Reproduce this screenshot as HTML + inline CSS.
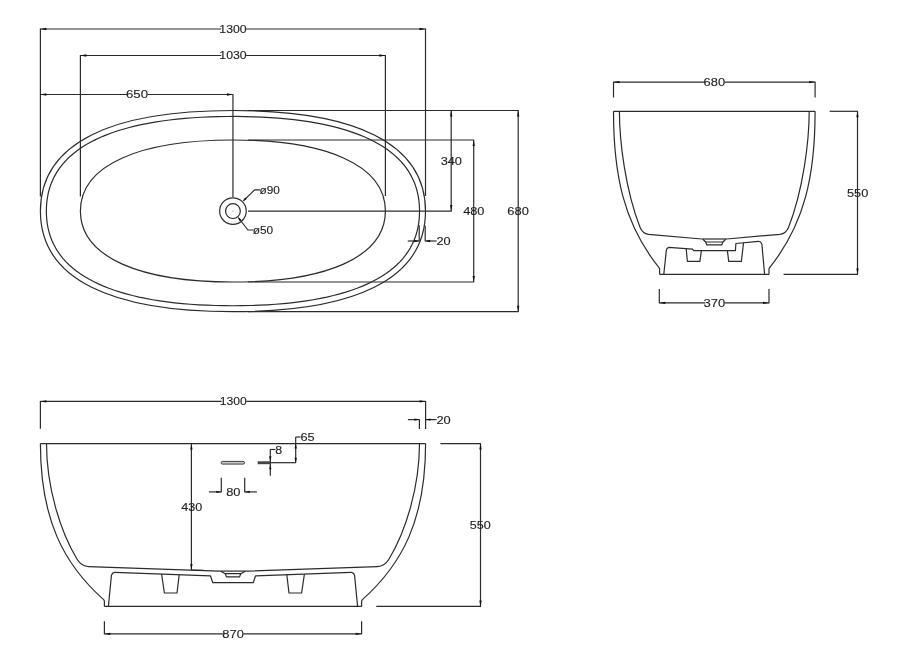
<!DOCTYPE html>
<html lang="en">
<head>
<meta charset="utf-8">
<title>Bathtub dimensions</title>
<style>
html,body{margin:0;padding:0;background:#fff;}
body{width:900px;height:669px;overflow:hidden;}
svg{display:block;will-change:transform;}
svg *{vector-effect:none;}
.g{fill:none;stroke:#2b2b2b;stroke-width:1.2;stroke-linecap:butt;stroke-linejoin:round;}
.g text{fill:#222;stroke:#222;stroke-width:0.12;font-family:"Liberation Sans",sans-serif;}
.g .a{fill:#111;stroke:none;}
</style>
</head>
<body>
<svg width="900" height="669" viewBox="0 0 900 669">
<rect width="900" height="669" fill="#fff"/>
<g class="g">
<path d="M40.4 211.1 C40.4 142.09 112.8 110.5 232.95 110.5 C353.1 110.5 425.5 142.09 425.5 211.1 C425.5 280.11 353.1 311.7 232.95 311.7 C112.8 311.7 40.4 280.11 40.4 211.1 Z" />
<path d="M46.35 211.1 L46.48 206.27 L46.86 201.6 L47.5 197.08 L48.38 192.71 L49.5 188.48 L50.87 184.39 L52.47 180.44 L54.31 176.61 L56.39 172.91 L58.7 169.33 L61.26 165.87 L64.05 162.53 L67.08 159.29 L70.36 156.18 L73.87 153.17 L77.63 150.28 L81.63 147.5 L85.87 144.83 L90.36 142.28 L95.08 139.85 L100.04 137.53 L105.23 135.33 L110.66 133.25 L116.31 131.29 L122.2 129.46 L128.31 127.74 L134.64 126.14 L141.19 124.67 L147.96 123.31 L154.94 122.08 L162.14 120.97 L169.54 119.99 L177.15 119.12 L184.96 118.38 L192.98 117.76 L201.19 117.26 L209.6 116.88 L218.2 116.62 L226.99 116.48 L235.94 116.46 L244.79 116.56 L253.46 116.78 L261.93 117.12 L270.21 117.58 L278.29 118.16 L286.17 118.86 L293.85 119.69 L301.32 120.63 L308.58 121.7 L315.64 122.89 L322.48 124.2 L329.1 125.64 L335.51 127.19 L341.69 128.87 L347.65 130.67 L353.38 132.59 L358.89 134.63 L364.16 136.78 L369.2 139.06 L374 141.46 L378.56 143.97 L382.88 146.6 L386.96 149.34 L390.8 152.19 L394.4 155.16 L397.75 158.24 L400.87 161.44 L403.74 164.74 L406.37 168.17 L408.77 171.71 L410.92 175.36 L412.84 179.15 L414.53 183.06 L415.97 187.1 L417.17 191.28 L418.14 195.61 L418.85 200.08 L419.32 204.7 L419.54 209.47 L419.49 214.33 L419.19 219.06 L418.64 223.63 L417.84 228.05 L416.8 232.32 L415.52 236.46 L413.99 240.46 L412.23 244.33 L410.23 248.07 L408 251.69 L405.52 255.19 L402.81 258.57 L399.86 261.84 L396.66 265 L393.23 268.04 L389.55 270.97 L385.63 273.79 L381.47 276.49 L377.06 279.08 L372.42 281.55 L367.54 283.91 L362.43 286.15 L357.08 288.27 L351.5 290.27 L345.69 292.15 L339.66 293.9 L333.4 295.54 L326.92 297.06 L320.22 298.45 L313.31 299.72 L306.19 300.87 L298.85 301.9 L291.31 302.8 L283.56 303.59 L275.62 304.25 L267.47 304.79 L259.13 305.21 L250.59 305.51 L241.86 305.69 L232.95 305.75 L224.04 305.69 L215.31 305.51 L206.77 305.21 L198.43 304.79 L190.28 304.25 L182.34 303.59 L174.59 302.8 L167.05 301.9 L159.71 300.87 L152.59 299.72 L145.68 298.45 L138.98 297.06 L132.5 295.54 L126.24 293.9 L120.21 292.15 L114.4 290.27 L108.82 288.27 L103.47 286.15 L98.36 283.91 L93.48 281.55 L88.84 279.08 L84.43 276.49 L80.27 273.79 L76.35 270.97 L72.67 268.04 L69.24 265 L66.04 261.84 L63.09 258.57 L60.38 255.19 L57.9 251.69 L55.67 248.07 L53.67 244.33 L51.91 240.46 L50.38 236.46 L49.1 232.32 L48.06 228.05 L47.26 223.63 L46.71 219.06 L46.41 214.33 Z" />
<path d="M80.4 211.1 C80.4 164.17 141.42 140 232.95 140 C324.42 140 385.4 164.17 385.4 211.1 C385.4 257.89 324.42 282 232.95 282 C141.42 282 80.4 257.89 80.4 211.1 Z" />
<circle cx="232.95" cy="211.1" r="13.3"/>
<circle cx="232.95" cy="211.1" r="7.4"/>
<circle cx="232.95" cy="211.1" r="0.6" fill="#999" stroke="none"/>
<path d="M243.6 200.6 L254.6 189.9 L260 189.9" />
<polygon class="a" points="242.4,201.8 245.16,197.49 246.71,199.04"/>
<text x="259.55" y="193.8" font-size="10.9" textLength="20.4" lengthAdjust="spacingAndGlyphs">ø90</text>
<path d="M238.6 218 L247.9 230 L253.2 230" />
<polygon class="a" points="237.5,216.6 241.43,219.88 239.69,221.23"/>
<text x="252.75" y="233.9" font-size="10.9" textLength="20.4" lengthAdjust="spacingAndGlyphs">ø50</text>
<text x="219.35" y="32.9" font-size="10.9" textLength="27.3" lengthAdjust="spacingAndGlyphs">1300</text>
<line x1="40.4" y1="29" x2="221.2" y2="29"/>
<line x1="246.2" y1="29" x2="425.5" y2="29"/>
<polygon class="a" points="40.4,29 46.4,27.85 46.4,30.15"/>
<polygon class="a" points="425.5,29 419.5,30.15 419.5,27.85"/>
<line x1="40.4" y1="28.6" x2="40.4" y2="196.5"/>
<line x1="425.5" y1="28.6" x2="425.5" y2="196"/>
<text x="219.35" y="59.4" font-size="10.9" textLength="27.3" lengthAdjust="spacingAndGlyphs">1030</text>
<line x1="80.4" y1="55.5" x2="221.2" y2="55.5"/>
<line x1="246.2" y1="55.5" x2="385.4" y2="55.5"/>
<polygon class="a" points="80.4,55.5 86.4,54.35 86.4,56.65"/>
<polygon class="a" points="385.4,55.5 379.4,56.65 379.4,54.35"/>
<line x1="80.4" y1="55.1" x2="80.4" y2="196.5"/>
<line x1="385.4" y1="55.1" x2="385.4" y2="196"/>
<text x="125.95" y="98.4" font-size="10.9" textLength="22.1" lengthAdjust="spacingAndGlyphs">650</text>
<line x1="40.4" y1="94.5" x2="127.8" y2="94.5"/>
<line x1="147.6" y1="94.5" x2="232.95" y2="94.5"/>
<polygon class="a" points="40.4,94.5 46.4,93.35 46.4,95.65"/>
<polygon class="a" points="232.95,94.5 226.95,95.65 226.95,93.35"/>
<line x1="232.95" y1="94.1" x2="232.95" y2="197"/>
<line x1="248" y1="110.5" x2="518.7" y2="110.5"/>
<line x1="248" y1="140" x2="474.1" y2="140"/>
<line x1="248" y1="211.1" x2="451.8" y2="211.1"/>
<line x1="248" y1="282" x2="474.1" y2="282"/>
<line x1="248" y1="311.7" x2="518.7" y2="311.7"/>
<line x1="451.2" y1="110.5" x2="451.2" y2="211.1"/>
<polygon class="a" points="451.2,110.5 452.35,116.5 450.05,116.5"/>
<polygon class="a" points="451.2,211.1 450.05,205.1 452.35,205.1"/>
<text x="440.65" y="164.9" font-size="10.9" textLength="21.3" lengthAdjust="spacingAndGlyphs">340</text>
<line x1="473.7" y1="140" x2="473.7" y2="282"/>
<polygon class="a" points="473.7,140 474.85,146 472.55,146"/>
<polygon class="a" points="473.7,282 472.55,276 474.85,276"/>
<text x="463.15" y="215" font-size="10.9" textLength="21.3" lengthAdjust="spacingAndGlyphs">480</text>
<line x1="518.2" y1="110.5" x2="518.2" y2="311.7"/>
<polygon class="a" points="518.2,110.5 519.35,116.5 517.05,116.5"/>
<polygon class="a" points="518.2,311.7 517.05,305.7 519.35,305.7"/>
<text x="507.35" y="215" font-size="10.9" textLength="21.5" lengthAdjust="spacingAndGlyphs">680</text>
<line x1="419.2" y1="225.3" x2="419.2" y2="241.2"/>
<line x1="425.2" y1="225.8" x2="425.2" y2="241.2"/>
<line x1="407.8" y1="241" x2="419.2" y2="241"/>
<line x1="425.2" y1="241" x2="436.6" y2="241"/>
<polygon class="a" points="419.2,241 414.2,242.15 414.2,239.85"/>
<polygon class="a" points="425.2,241 430.2,239.85 430.2,242.15"/>
<text x="436.45" y="245.2" font-size="10.9" textLength="14.2" lengthAdjust="spacingAndGlyphs">20</text>
<path d="M613.5 111.3 C613.5 174.5 623.6 223.7 659.0 267.6 Q659.6 268.4 659.6 269.6 L659.6 274.4" />
<path d="M613.5 111.3 C613.5 174.5 623.6 223.7 659.0 267.6 Q659.6 268.4 659.6 269.6 L659.6 274.4" transform="translate(1428.6,0) scale(-1,1)"/>
<path d="M619.4 111.3 C619.4 141.2 625.5 190.3 640 227.2 Q642.6 233.6 648.6 234.3 L701.8 239.0" />
<path d="M619.4 111.3 C619.4 141.2 625.5 190.3 640 227.2 Q642.6 233.6 648.6 234.3 L701.8 239.0" transform="translate(1428.6,0) scale(-1,1)"/>
<line x1="613.5" y1="111.3" x2="815.1" y2="111.3"/>
<line x1="659.6" y1="274.4" x2="769" y2="274.4"/>
<path d="M701.8 239 L726.8 239" />
<path d="M702.8 239.2 L705.8 242 L722.8 242 L725.8 239.2" />
<path d="M705.8 242 L706.7 244.9 L721.9 244.9 L722.8 242" />
<path d="M663.8 274.4 L666.3 250.6 L666.9 248.6 L668.7 247.4 L692.5 249.2 L693.8 250.7 L735.4 250.7 L735.9 243.5 L758.3 241.3 L760.6 242 L761.9 244.2 L764.6 274.4" />
<path d="M686.2 248.8 L687.4 261.3 L699.9 261.3 L701.4 250.7" />
<path d="M727.4 250.7 L728.7 261.4 L741.4 261.4 L743.5 242.9" />
<text x="703.55" y="86" font-size="10.9" textLength="21.5" lengthAdjust="spacingAndGlyphs">680</text>
<line x1="613.5" y1="82.1" x2="705.4" y2="82.1"/>
<line x1="724.6" y1="82.1" x2="815.1" y2="82.1"/>
<polygon class="a" points="613.5,82.1 619.5,80.95 619.5,83.25"/>
<polygon class="a" points="815.1,82.1 809.1,83.25 809.1,80.95"/>
<line x1="613.5" y1="81.7" x2="613.5" y2="97.5"/>
<line x1="815.1" y1="81.7" x2="815.1" y2="97.5"/>
<line x1="829.7" y1="111.3" x2="857.9" y2="111.3"/>
<line x1="783.6" y1="274.4" x2="857.9" y2="274.4"/>
<line x1="857.5" y1="111.3" x2="857.5" y2="274.4"/>
<polygon class="a" points="857.5,111.3 858.65,117.3 856.35,117.3"/>
<polygon class="a" points="857.5,274.4 856.35,268.4 858.65,268.4"/>
<text x="846.95" y="196.8" font-size="10.9" textLength="21.3" lengthAdjust="spacingAndGlyphs">550</text>
<text x="703.55" y="306.9" font-size="10.9" textLength="21.7" lengthAdjust="spacingAndGlyphs">370</text>
<line x1="659.3" y1="302.9" x2="705.4" y2="302.9"/>
<line x1="724.8" y1="302.9" x2="769" y2="302.9"/>
<polygon class="a" points="659.3,302.9 665.3,301.75 665.3,304.05"/>
<polygon class="a" points="769,302.9 763,304.05 763,301.75"/>
<line x1="659.3" y1="289" x2="659.3" y2="303.3"/>
<line x1="769" y1="289" x2="769" y2="303.3"/>
<path d="M40.4 443.6 C40.4 520.1 64.1 564.5 103.6 599.6 Q104.4 600.4 104.4 601.6 L104.4 606.4" />
<path d="M40.4 443.6 C40.4 520.1 64.1 564.5 103.6 599.6 Q104.4 600.4 104.4 601.6 L104.4 606.4" transform="translate(466,0) scale(-1,1)"/>
<path d="M46.5 443.6 C46.5 487.5 60.5 532.0 77.1 559.2 Q81.4 566.2 88.6 566.6 L219.1 571.1" />
<path d="M46.5 443.6 C46.5 487.5 60.5 532.0 77.1 559.2 Q81.4 566.2 88.6 566.6 L219.1 571.1" transform="translate(466,0) scale(-1,1)"/>
<line x1="40.4" y1="443.6" x2="425.6" y2="443.6"/>
<line x1="104.4" y1="606.4" x2="361.6" y2="606.4"/>
<path d="M219.1 571.1 L246.9 571.1" />
<path d="M220.6 571.3 L225.3 573.7 L240.7 573.7 L245.4 571.3" />
<path d="M225.3 573.7 L226.4 576.9 L239.6 576.9 L240.7 573.7" />
<path d="M108.4 606.4 L111.4 575.6 L112.4 573.4 L114.8 572.3 L210.4 575.8 L212.8 582.7 L253.2 582.7 L255.6 575.8 L351.2 572.3 L353.6 573.4 L354.6 575.6 L357.6 606.4" />
<path d="M161.6 574.1 L164.4 593 L177 593 L179.2 574.7" />
<path d="M304.4 574.1 L301.6 593 L289 593 L286.8 574.7" />
<text x="219.75" y="405.2" font-size="10.9" textLength="27" lengthAdjust="spacingAndGlyphs">1300</text>
<line x1="40.4" y1="401.4" x2="221.6" y2="401.4"/>
<line x1="246.3" y1="401.4" x2="425.6" y2="401.4"/>
<polygon class="a" points="40.4,401.4 46.4,400.25 46.4,402.55"/>
<polygon class="a" points="425.6,401.4 419.6,402.55 419.6,400.25"/>
<line x1="40.4" y1="400.9" x2="40.4" y2="428.8"/>
<line x1="425.6" y1="400.9" x2="425.6" y2="429"/>
<line x1="419.4" y1="419.6" x2="419.4" y2="429"/>
<line x1="407.9" y1="419.6" x2="419.4" y2="419.6"/>
<line x1="425.6" y1="419.6" x2="436.6" y2="419.6"/>
<polygon class="a" points="419.4,419.6 414.4,420.75 414.4,418.45"/>
<polygon class="a" points="425.6,419.6 430.6,418.45 430.6,420.75"/>
<text x="436.45" y="423.8" font-size="10.9" textLength="14.3" lengthAdjust="spacingAndGlyphs">20</text>
<line x1="440.4" y1="443.6" x2="480.9" y2="443.6"/>
<line x1="376.3" y1="606.4" x2="481" y2="606.4"/>
<line x1="480.5" y1="443.6" x2="480.5" y2="606.4"/>
<polygon class="a" points="480.5,443.6 481.65,449.6 479.35,449.6"/>
<polygon class="a" points="480.5,606.4 479.35,600.4 481.65,600.4"/>
<text x="469.75" y="528.9" font-size="10.9" textLength="21" lengthAdjust="spacingAndGlyphs">550</text>
<line x1="191.4" y1="443.6" x2="191.4" y2="570"/>
<polygon class="a" points="191.4,443.6 192.55,449.6 190.25,449.6"/>
<polygon class="a" points="191.4,570 190.25,564 192.55,564"/>
<text x="181.15" y="511.4" font-size="10.9" textLength="21" lengthAdjust="spacingAndGlyphs">430</text>
<line x1="191.4" y1="570" x2="203.4" y2="570.3"/>
<rect x="221.1" y="461.4" width="23.4" height="2.7" rx="1.35" ry="1.35" fill="#c8c8c8" stroke-width="0.9"/>
<line x1="221.3" y1="477.8" x2="221.3" y2="492.2"/>
<line x1="244.7" y1="477.8" x2="244.7" y2="492.2"/>
<line x1="209" y1="491.9" x2="221.3" y2="491.9"/>
<line x1="244.7" y1="491.9" x2="256.9" y2="491.9"/>
<polygon class="a" points="221.3,491.9 216.3,493.05 216.3,490.75"/>
<polygon class="a" points="244.7,491.9 249.7,490.75 249.7,493.05"/>
<text x="226.15" y="495.9" font-size="10.9" textLength="14.3" lengthAdjust="spacingAndGlyphs">80</text>
<rect x="257.7" y="461.3" width="12.6" height="2.9" fill="#444" stroke="none"/>
<line x1="270.3" y1="462.7" x2="295.8" y2="462.7"/>
<line x1="270.3" y1="449.5" x2="270.3" y2="475.7"/>
<line x1="270.3" y1="449.5" x2="275.4" y2="449.5"/>
<polygon class="a" points="270.3,461.3 269.15,456.3 271.45,456.3"/>
<polygon class="a" points="270.3,464.3 271.45,469.3 269.15,469.3"/>
<text x="275.25" y="453.9" font-size="10.9" textLength="6.9" lengthAdjust="spacingAndGlyphs">8</text>
<line x1="295.7" y1="437" x2="295.7" y2="462.7"/>
<line x1="295.7" y1="437" x2="300.5" y2="437"/>
<polygon class="a" points="295.7,443.6 296.85,448.6 294.55,448.6"/>
<polygon class="a" points="295.7,462.7 294.55,457.7 296.85,457.7"/>
<text x="300.45" y="441.4" font-size="10.9" textLength="14.2" lengthAdjust="spacingAndGlyphs">65</text>
<text x="222.25" y="637.7" font-size="10.9" textLength="21.6" lengthAdjust="spacingAndGlyphs">870</text>
<line x1="104.4" y1="633.8" x2="224.1" y2="633.8"/>
<line x1="243.4" y1="633.8" x2="361.6" y2="633.8"/>
<polygon class="a" points="104.4,633.8 110.4,632.65 110.4,634.95"/>
<polygon class="a" points="361.6,633.8 355.6,634.95 355.6,632.65"/>
<line x1="104.4" y1="621.2" x2="104.4" y2="634.2"/>
<line x1="361.6" y1="621.2" x2="361.6" y2="634.2"/>
</g>
</svg>
</body>
</html>
